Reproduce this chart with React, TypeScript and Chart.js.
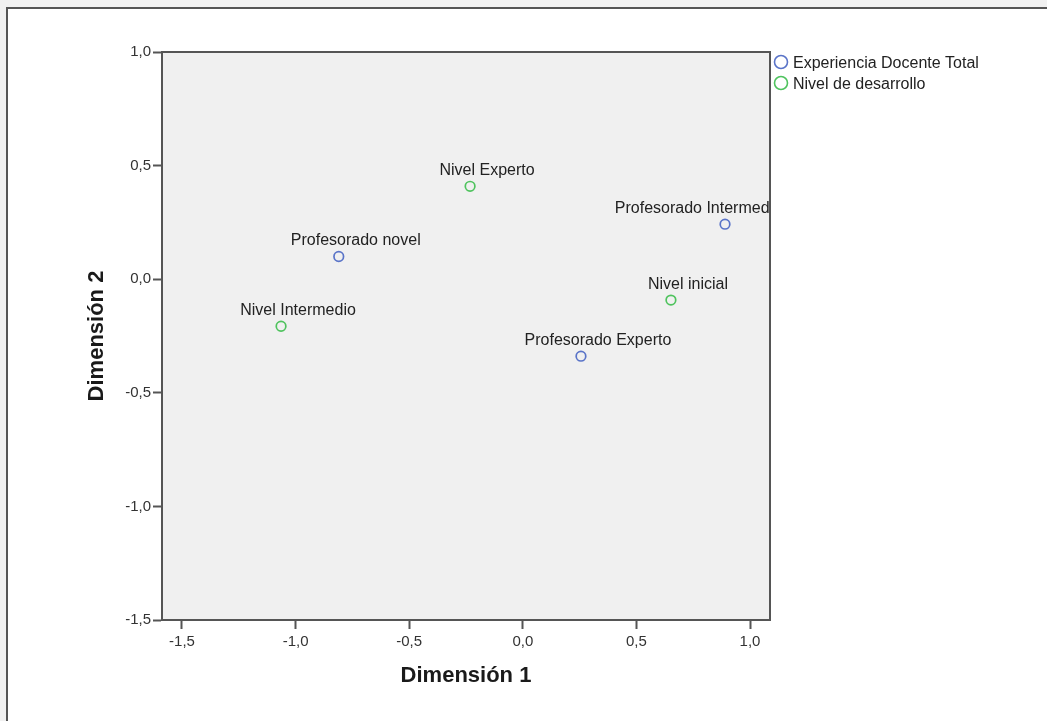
import { useEffect, useRef } from "react";
import { Chart, registerables } from "chart.js";

Chart.register(...registerables);

// Category points for the two variables (coordinates on dimensions 1 and 2)
const seriesNames = ["Experiencia Docente Total", "Nivel de desarrollo"];

const docenteLabels = ["Profesorado novel", "Profesorado Intermedio", "Profesorado Experto"];
const docenteDim1 = [-0.81, 0.89, 0.256];
const docenteDim2 = [0.1, 0.242, -0.339];

const nivelLabels = ["Nivel inicial", "Nivel Intermedio", "Nivel Experto"];
const nivelDim1 = [0.652, -1.064, -0.232];
const nivelDim2 = [-0.092, -0.207, 0.409];

const xTicks = [-1.5, -1.0, -0.5, 0.0, 0.5, 1.0];
const yTicks = [-1.5, -1.0, -0.5, 0.0, 0.5, 1.0];

const axisTitleX = "Dimensión 1";
const axisTitleY = "Dimensión 2";

const seriesColors = ["#5a74c8", "#4fc35e"];
const FONT = "'Liberation Sans', Arial, sans-serif";

const fmt = (v: number) => v.toFixed(1).replace(".", ",");

export default function App() {
  const ref = useRef<HTMLCanvasElement | null>(null);

  useEffect(() => {
    const canvas = ref.current;
    if (!canvas) return;

    const pointLabels = [docenteLabels, nivelLabels];

    const decor = {
      id: "decor",
      beforeDraw(chart: any) {
        const { ctx, chartArea: a, width, height } = chart;
        ctx.save();
        // page frame
        ctx.fillStyle = "#f1f1f1";
        ctx.fillRect(0, 0, width, height);
        ctx.fillStyle = "#ffffff";
        ctx.fillRect(6, 7, width - 6, height - 7);
        ctx.strokeStyle = "#555555";
        ctx.lineWidth = 2;
        ctx.beginPath();
        ctx.moveTo(7, height);
        ctx.lineTo(7, 8);
        ctx.lineTo(width, 8);
        ctx.stroke();
        // plot background
        ctx.fillStyle = "#f0f0f0";
        ctx.fillRect(a.left, a.top, a.right - a.left, a.bottom - a.top);
        ctx.restore();
      },
      afterDatasetsDraw(chart: any) {
        const { ctx, chartArea: a } = chart;
        ctx.save();
        // point labels, clipped to the plot area
        ctx.beginPath();
        ctx.rect(a.left, a.top, a.right - a.left, a.bottom - a.top);
        ctx.clip();
        ctx.font = `16px ${FONT}`;
        ctx.fillStyle = "#222222";
        ctx.textAlign = "center";
        ctx.textBaseline = "alphabetic";
        chart.data.datasets.forEach((ds: any, di: number) => {
          const meta = chart.getDatasetMeta(di);
          meta.data.forEach((el: any, i: number) => {
            const text = pointLabels[di][i];
            const w = ctx.measureText(text).width;
            let cx = el.x + 17;
            if (cx + w / 2 > a.right + 12) cx = a.right + 12 - w / 2;
            ctx.fillText(text, cx, el.y - 11);
          });
        });
        ctx.restore();
      },
      afterDraw(chart: any) {
        const { ctx, chartArea: a } = chart;
        ctx.save();
        // top and right border of the plot
        ctx.strokeStyle = "#555555";
        ctx.lineWidth = 2;
        ctx.beginPath();
        ctx.moveTo(a.left, a.top);
        ctx.lineTo(a.right, a.top);
        ctx.lineTo(a.right, a.bottom);
        ctx.stroke();

        // axis titles
        ctx.fillStyle = "#1a1a1a";
        ctx.font = `bold 22px ${FONT}`;
        ctx.textAlign = "center";
        ctx.textBaseline = "middle";
        ctx.fillText(axisTitleX, (a.left + a.right) / 2, 676);
        ctx.translate(97, (a.top + a.bottom) / 2);
        ctx.rotate(-Math.PI / 2);
        ctx.fillText(axisTitleY, 0, 0);
        ctx.setTransform(1, 0, 0, 1, 0, 0);

        // legend
        ctx.font = `16px ${FONT}`;
        ctx.textAlign = "left";
        ctx.textBaseline = "middle";
        seriesNames.forEach((name, i) => {
          const y = 62 + i * 21;
          ctx.beginPath();
          ctx.strokeStyle = seriesColors[i];
          ctx.lineWidth = 1.6;
          ctx.arc(a.right + 11, y, 6.5, 0, Math.PI * 2);
          ctx.stroke();
          ctx.fillStyle = "#222222";
          ctx.fillText(name, a.right + 23, y + 2);
        });
        ctx.restore();
      },
    };

    const mk = (xs: number[], ys: number[]) => xs.map((x, i) => ({ x, y: ys[i] }));

    const chart = new Chart(canvas, {
      type: "scatter",
      data: {
        datasets: [
          {
            label: seriesNames[0],
            data: mk(docenteDim1, docenteDim2),
            borderColor: seriesColors[0],
            backgroundColor: "rgba(0,0,0,0)",
            pointRadius: 4.8,
            borderWidth: 1.7,
          },
          {
            label: seriesNames[1],
            data: mk(nivelDim1, nivelDim2),
            borderColor: seriesColors[1],
            backgroundColor: "rgba(0,0,0,0)",
            pointRadius: 4.8,
            borderWidth: 1.7,
          },
        ],
      },
      options: {
        responsive: false,
        animation: false,
        devicePixelRatio: 1,
        layout: { padding: { top: 52, right: 277, left: 0, bottom: 0 } },
        plugins: { legend: { display: false }, tooltip: { enabled: false } },
        scales: {
          x: {
            type: "linear",
            min: -1.588,
            max: 1.088,
            afterBuildTicks: (s: any) => {
              s.ticks = xTicks.map((value) => ({ value }));
            },
            afterFit: (s: any) => {
              s.height = 101;
            },
            grid: {
              drawOnChartArea: false,
              drawTicks: true,
              tickLength: 9,
              tickWidth: 2,
              color: "#555555",
            },
            border: { display: true, color: "#555555", width: 2 },
            ticks: {
              font: { family: FONT, size: 15 },
              color: "#333333",
              padding: 4,
              maxRotation: 0,
              callback: (v: any) => fmt(Number(v)),
            },
          },
          y: {
            type: "linear",
            min: -1.5,
            max: 1.0,
            afterBuildTicks: (s: any) => {
              s.ticks = yTicks.map((value) => ({ value }));
            },
            afterFit: (s: any) => {
              s.width = 162;
            },
            grid: {
              drawOnChartArea: false,
              drawTicks: true,
              tickLength: 9,
              tickWidth: 2,
              color: "#555555",
            },
            border: { display: true, color: "#555555", width: 2 },
            ticks: {
              font: { family: FONT, size: 15 },
              color: "#333333",
              padding: 2,
              callback: (v: any) => fmt(Number(v)),
            },
          },
        },
      },
      plugins: [decor],
    });

    return () => chart.destroy();
  }, []);

  return (
    <div style={{ position: "fixed", left: 0, top: 0, width: 1047, height: 721 }}>
      <canvas ref={ref} width={1047} height={721} style={{ display: "block" }} />
    </div>
  );
}
